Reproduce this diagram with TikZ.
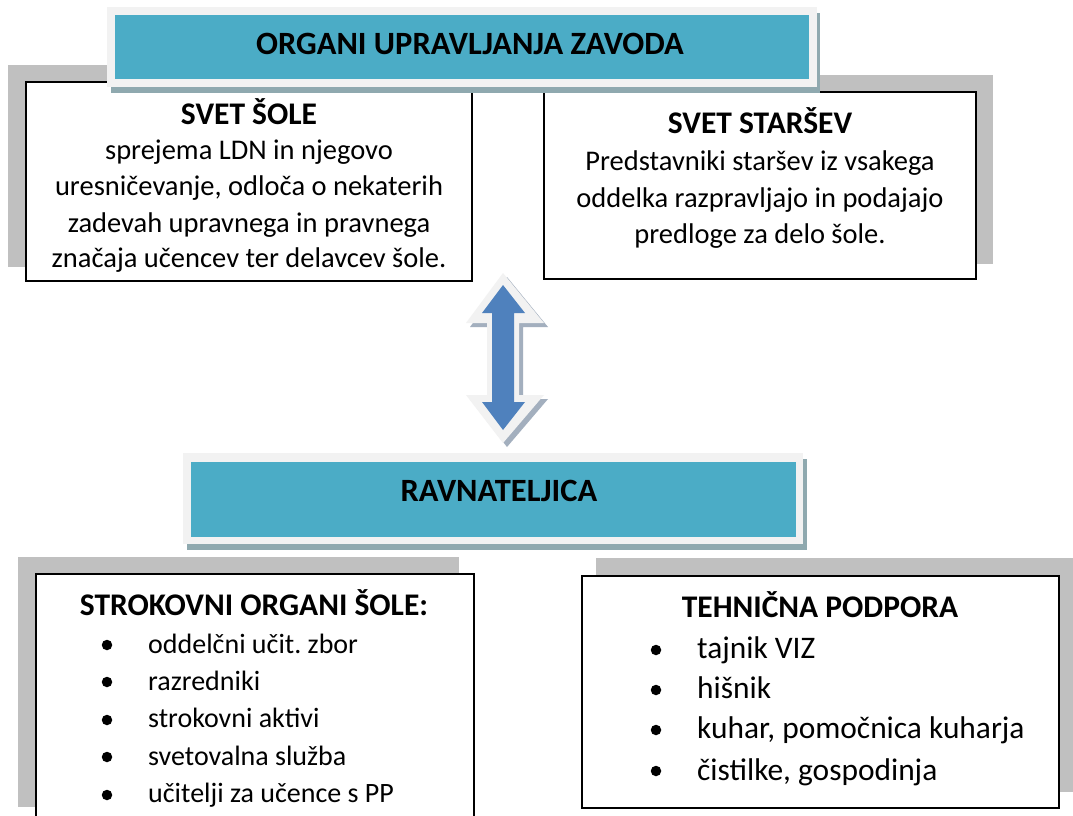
\documentclass[tikz,border=0pt]{standalone}
\usepackage{fontspec}
\setmainfont{Carlito}
\usetikzlibrary{calc}
\definecolor{teal1}{HTML}{4BACC6}
\definecolor{frame1}{HTML}{F2F2F2}
\definecolor{tshadow}{HTML}{8FA9AF}
\definecolor{gshadow}{HTML}{C0C0C0}
\definecolor{arrowblue}{HTML}{4F81BD}
\definecolor{ashadow}{HTML}{8C9BAE}
\begin{document}
\begin{tikzpicture}[x=1pt,y=-1pt,
  tbold/.style={font=\fontsize{31.5}{36}\selectfont\bfseries, inner sep=0pt, anchor=base},
  thead/.style={font=\fontsize{32.5}{36}\selectfont\bfseries, inner sep=0pt, anchor=base},
  tbody/.style={font=\fontsize{28.5}{32}\selectfont, inner sep=0pt, anchor=base},
  titem/.style={font=\fontsize{28}{32}\selectfont, inner sep=0pt, anchor=base west},
  titemb/.style={font=\fontsize{31.4}{36}\selectfont, inner sep=0pt, anchor=base west},
  bul/.style={circle, fill=black, inner sep=0pt, minimum size=10.5pt},
  box/.style={draw=black, line width=2pt, fill=white},
  gsh/.style={fill=gshadow},
]
\clip (0,0) rectangle (1073,816);
\fill[white] (0,0) rectangle (1073,816);

% gray offset shadows
\fill[gsh] (8,65) rectangle (454,267);
\fill[gsh] (561,75) rectangle (993,264);
\fill[gsh] (18,557) rectangle (459,807);
\fill[gsh] (596,558) rectangle (1090,792);

% white boxes
\draw[box] (26,82) rectangle (472,281);
\draw[box] (544,92) rectangle (976,279);
\draw[box] (36,574) rectangle (474,840);
\draw[box] (582,576) rectangle (1059,808);

% top title
\fill[tshadow] (111,13) rectangle (820,93);
\fill[frame1] (107,7) rectangle (817,87);
\fill[teal1] (115,15) rectangle (809,79);
\node[thead] (top) at (470,55) {ORGANI UPRAVLJANJA ZAVODA};

% RAVNATELJICA
\fill[tshadow] (187,459) rectangle (807,550);
\fill[frame1] (183,453) rectangle (803,544);
\fill[teal1] (191,462) rectangle (796,537);
\node[thead] (rav) at (499,501) {RAVNATELJICA};

% double arrow
\coordinate (atop) at (503,273);
\coordinate (abot) at (503,443);
\fill[ashadow, opacity=0.8] ($(atop)+(4,4)$) -- ++(41,50) -- ++(-25,0) -- ++(0,72) -- ++(25,0) -- ++(-41,48) -- ++(-37,-48) -- ++(21,0) -- ++(0,-72) -- ++(-21,0) -- cycle;
\fill[frame1] (atop) -- ++(41,50) -- ++(-25,0) -- ++(0,72) -- ++(25,0) -- (abot) -- ++(-37,-48) -- ++(21,0) -- ++(0,-72) -- ++(-21,0) -- cycle;
\fill[arrowblue] (503,285) -- (525,313) -- (514,313) -- (514,402) -- (525,402) -- (503,430) -- (482,402) -- (492,402) -- (492,313) -- (482,313) -- cycle;

% SVET SOLE text
\node[tbold] (s0) at (249,124) {SVET ŠOLE};
\node[tbody] (s1) at (249,159) {sprejema LDN in njegovo};
\node[tbody] (s2) at (249,195) {uresničevanje, odloča o nekaterih};
\node[tbody] (s3) at (249,232) {zadevah upravnega in pravnega};
\node[tbody] (s4) at (249,267) {značaja učencev ter delavcev šole.};

% SVET STARSEV text
\node[tbold] (p0) at (760,133) {SVET STARŠEV};
\node[tbody] (p1) at (760,170) {Predstavniki staršev iz vsakega};
\node[tbody] (p2) at (760,207) {oddelka razpravljajo in podajajo};
\node[tbody] (p3) at (760,243) {predloge za delo šole.};

% STROKOVNI ORGANI
\node[tbold] (k0) at (254,615) {STROKOVNI ORGANI ŠOLE:};
\node[bul] (kb1) at (107,645) {};
\node[bul] (kb2) at (107,682) {};
\node[bul] (kb3) at (107,720) {};
\node[bul] (kb4) at (107,757) {};
\node[bul] (kb5) at (107,795) {};
\node[titem] (k1) at (148,653) {oddelčni učit.\ zbor};
\node[titem] (k2) at (148,690) {razredniki};
\node[titem] (k3) at (148,727) {strokovni aktivi};
\node[titem] (k4) at (148,765) {svetovalna služba};
\node[titem] (k5) at (148,802) {učitelji za učence s PP};

% TEHNICNA PODPORA
\node[tbold] (h0) at (820,617) {TEHNIČNA PODPORA};
\node[bul] (hb1) at (656,650) {};
\node[bul] (hb2) at (656,690) {};
\node[bul] (hb3) at (656,730) {};
\node[bul] (hb4) at (656,771) {};
\node[titemb] (h1) at (697,658) {tajnik VIZ};
\node[titemb] (h2) at (697,698) {hišnik};
\node[titemb] (h3) at (697,738) {kuhar, pomočnica kuharja};
\node[titemb] (h4) at (697,780) {čistilke, gospodinja};
\end{tikzpicture}
\end{document}
